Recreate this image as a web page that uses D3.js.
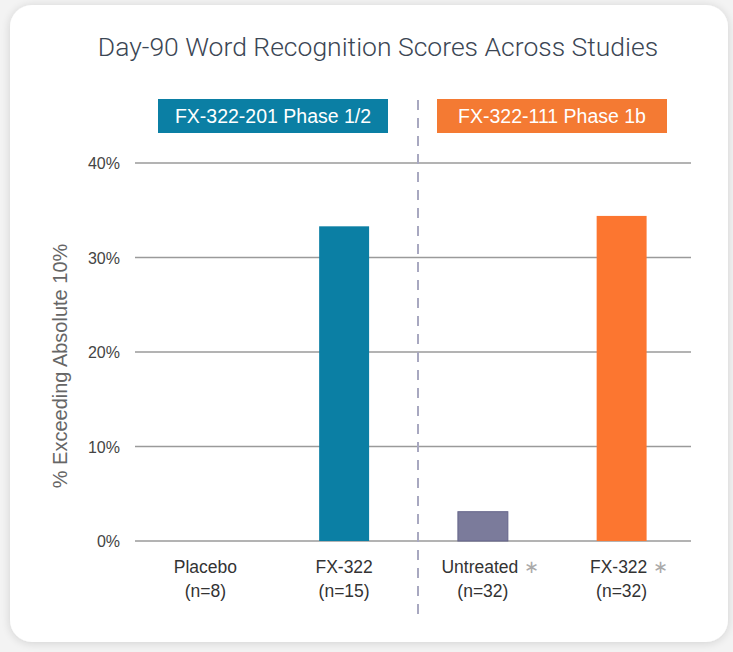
<!DOCTYPE html>
<html><head><meta charset="utf-8">
<script src="https://cdn.jsdelivr.net/npm/d3@7"></script>
<style>
html,body{margin:0;padding:0;background:#f3f3f3;}
svg{display:block;font-family:"Liberation Sans",Arial,sans-serif;}
</style></head>
<body>
<svg id="chart" width="733" height="652"></svg>
<script>
const title = "Day-90 Word Recognition Scores Across Studies";
const categories = ["Placebo","FX-322","Untreated","FX-322"];
const nLabels = ["(n=8)","(n=15)","(n=32)","(n=32)"];
const asterisks = [false,false,true,true];
const values = [0, 33.3, 3.1, 34.4];
const barColors = ["#0b7fa4","#0b7fa4","#7b7b9b","#fc7630"];
const studies = ["FX-322-201 Phase 1/2","FX-322-111 Phase 1b"];
const studyColors = ["#0b7fa4","#f47a33"];
const yTicks = [0,10,20,30,40];
const yLabel = "% Exceeding Absolute 10%";

const svg = d3.select("#chart");
const defs = svg.append("defs");
const f = defs.append("filter").attr("id","sh").attr("x","-10%").attr("y","-10%").attr("width","120%").attr("height","120%");
f.append("feGaussianBlur").attr("in","SourceAlpha").attr("stdDeviation",5);
f.append("feOffset").attr("dx",0).attr("dy",1).attr("result","b");
f.append("feComponentTransfer").append("feFuncA").attr("type","linear").attr("slope",0.15);
const m = f.append("feMerge"); m.append("feMergeNode"); m.append("feMergeNode").attr("in","SourceGraphic");

svg.append("rect").attr("x",10).attr("y",5).attr("width",718).attr("height",637).attr("rx",22)
  .attr("fill","#fff").attr("filter","url(#sh)");

svg.append("text").attr("x",378).attr("y",56).attr("text-anchor","middle")
  .attr("font-family","Roboto, 'Liberation Sans', sans-serif").attr("font-weight",300)
  .attr("font-size",26.5).attr("fill","#3b4654").text(title);

const x = d3.scaleBand().domain(d3.range(categories.length)).range([136,691]).paddingInner(0.64).paddingOuter(0.32);
const y = d3.scaleLinear().domain([0,40]).range([541,163]);

// grid
svg.append("g").selectAll("line").data(yTicks).join("line")
  .attr("x1",135).attr("x2",691).attr("y1",d=>y(d)).attr("y2",d=>y(d))
  .attr("stroke","#9a9a9a").attr("stroke-width",1.5);
svg.append("g").selectAll("text").data(yTicks).join("text")
  .attr("x",120).attr("y",d=>y(d)+6).attr("text-anchor","end")
  .attr("font-size",16).attr("fill","#444").text(d=>d+"%");

svg.append("text").attr("transform","translate(67,366) rotate(-90)").attr("text-anchor","middle")
  .attr("font-size",20).attr("fill","#666").text(yLabel);

// bars
svg.append("g").selectAll("rect").data(values).join("rect")
  .attr("x",(d,i)=>x(i)).attr("width",x.bandwidth())
  .attr("y",d=>y(d)).attr("height",d=>y(0)-y(d))
  .attr("fill",(d,i)=>barColors[i])
  .attr("stroke",(d,i)=>i===2?"#65658a":"none").attr("stroke-width",1);

// divider
svg.append("line").attr("x1",418).attr("x2",418).attr("y1",100).attr("y2",622)
  .attr("stroke","#a8a8c0").attr("stroke-width",2).attr("stroke-dasharray","10,8");

// study banners
const banners = [[158,388],[437,667]];
banners.forEach((b,i)=>{
  svg.append("rect").attr("x",b[0]).attr("y",99).attr("width",b[1]-b[0]).attr("height",34).attr("fill",studyColors[i]);
  svg.append("text").attr("x",(b[0]+b[1])/2).attr("y",123).attr("text-anchor","middle")
    .attr("font-size",19.5).attr("fill","#fff").text(studies[i]);
});

// category labels
const cl = svg.append("g").selectAll("g").data(categories).join("g")
  .attr("transform",(d,i)=>`translate(${x(i)+x.bandwidth()/2 - (asterisks[i]?3:0)},0)`);
cl.append("text").attr("y",573).attr("text-anchor","middle").attr("font-size",17.5).attr("fill","#333")
  .text(d=>d)
  .each(function(d,i){
    if(asterisks[i]){
      const w = this.getComputedTextLength();
      d3.select(this.parentNode).append("text").attr("x",w/2+6).attr("y",573)
        .attr("font-size",17.5).attr("fill","#aaa").text("\u2217");
    }
  });
cl.append("text").attr("y",597).attr("text-anchor","middle").attr("font-size",17.5).attr("fill","#333")
  .attr("x",(d,i)=>asterisks[i]?3:0)
  .text((d,i)=>nLabels[i]);
</script>
</body></html>
